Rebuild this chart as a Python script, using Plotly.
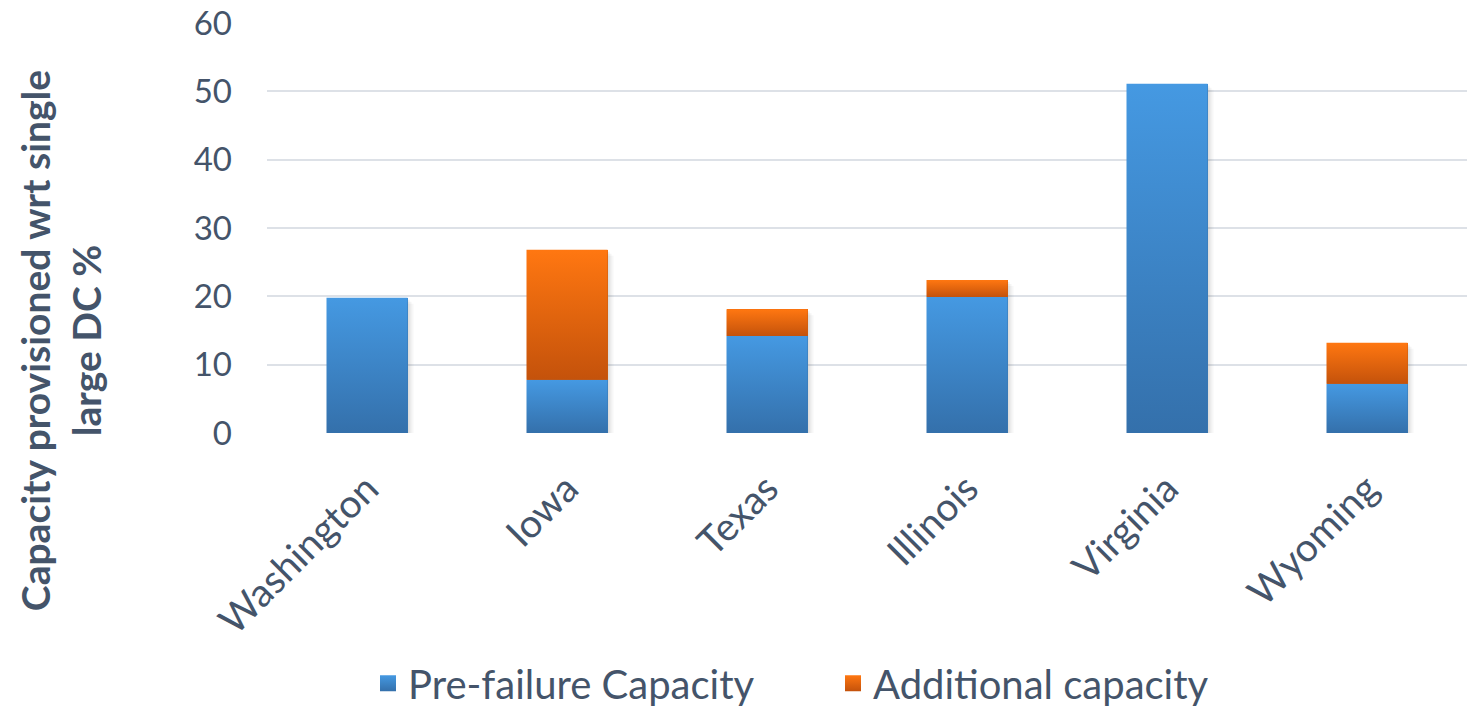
import plotly.graph_objects as go

# Capacity provisioned per state, as % of a single large data centre
states = ["Washington", "Iowa", "Texas", "Illinois", "Virginia", "Wyoming"]
pre_failure = [19.8, 7.8, 14.2, 19.9, 51.1, 7.2]
additional = [0.0, 19.0, 3.9, 2.5, 0.0, 6.0]

y_ticks = [0, 10, 20, 30, 40, 50, 60]

TEXT = "#44546A"
GRID = "#DDE1E7"
FONT = "Lato"
BAR_W = 0.405

BLUE_TOP, BLUE_BOT = "#4599E2", "#3470AB"
ORANGE_TOP, ORANGE_BOT = "#FF7711", "#C4520B"
BLUE_SCALE = [[0.0, BLUE_BOT], [1.0, BLUE_TOP]]
ORANGE_SCALE = [[0.0, ORANGE_BOT], [1.0, ORANGE_TOP]]

# pixel -> data unit conversions for the soft drop shadow
PX_X = 1.0 / 200
PX_Y = 60.0 / 410

fig = go.Figure()

# plain stacked bars carry the hover values
fig.add_trace(go.Bar(x=list(range(len(states))), y=pre_failure, width=BAR_W, showlegend=False,
                     name="Pre-failure Capacity", marker=dict(color="#3D86CC", line_width=0)))
fig.add_trace(go.Bar(x=list(range(len(states))), y=additional, width=BAR_W, showlegend=False,
                     name="Additional capacity", marker=dict(color="#E8670F", line_width=0)))

# legend entries with gradient square swatches
for name, top, bot in (("Pre-failure Capacity", BLUE_TOP, BLUE_BOT),
                       ("Additional capacity", ORANGE_TOP, ORANGE_BOT)):
    fig.add_trace(go.Scatter(
        x=[None], y=[None], mode="markers", name=name,
        marker=dict(symbol="square", size=16, color=top,
                    gradient=dict(type="vertical", color=bot)),
    ))


def rect(x0, x1, lo, hi, **kw):
    return go.Scatter(
        x=[x0, x1, x1, x0, x0], y=[lo, lo, hi, hi, lo],
        mode="lines", line=dict(width=0), fill="toself",
        showlegend=False, hoverinfo="skip", **kw,
    )


def gradient_block(i, lo, hi, scale):
    """Vertical-gradient rectangle covering one stacked segment."""
    return rect(i - BAR_W / 2, i + BAR_W / 2, lo, hi,
                fillgradient=dict(type="vertical", colorscale=scale, start=lo, stop=hi))


# soft shadow behind each bar (right / lower side)
for i in range(len(states)):
    top = pre_failure[i] + additional[i]
    for off, alpha in ((6, 0.035), (4, 0.05), (2, 0.07)):
        fig.add_trace(rect(i - BAR_W / 2 + off * PX_X, i + BAR_W / 2 + off * PX_X,
                           0, top - off * PX_Y, fillcolor=f"rgba(40,40,40,{alpha})"))

for i in range(len(states)):
    base, extra = pre_failure[i], additional[i]
    fig.add_trace(gradient_block(i, 0, base, BLUE_SCALE))
    if extra > 0:
        fig.add_trace(gradient_block(i, base, base + extra, ORANGE_SCALE))

fig.update_layout(
    barmode="stack",
    width=1481, height=708,
    margin=dict(l=267, r=14, t=23, b=275, autoexpand=False),
    paper_bgcolor="white", plot_bgcolor="white",
    font=dict(family=FONT, size=32, color=TEXT),
    showlegend=True,
    legend=dict(orientation="h", xref="container", yref="container",
                x=368 / 1481, xanchor="left", y=0.035, yanchor="middle",
                font=dict(size=40, color=TEXT), entrywidth=420,
                itemsizing="trace", traceorder="normal"),
    xaxis=dict(
        range=[-0.5, len(states) - 0.5],
        tickmode="array", tickvals=list(range(len(states))), ticktext=states,
        tickangle=-45, showgrid=False, zeroline=False, showline=False,
        ticks="", ticklabelstandoff=24, automargin=False,
        tickfont=dict(size=39, color=TEXT),
    ),
    yaxis=dict(
        range=[0, 60], tickmode="array", tickvals=y_ticks,
        showgrid=True, gridcolor=GRID, gridwidth=2,
        zeroline=False, showline=False, ticks="", automargin=False,
        ticklabelstandoff=34,
        tickfont=dict(size=33, color=TEXT),
    ),
    annotations=[dict(
        text="<b>Capacity provisioned wrt single<br>large DC %</b>",
        xref="paper", yref="paper", x=-0.1725, y=0.224, xanchor="center", yanchor="middle",
        textangle=-90, showarrow=False, align="center",
        font=dict(family=FONT, size=39, color=TEXT),
    )],
)

fig.write_html("out.html")
